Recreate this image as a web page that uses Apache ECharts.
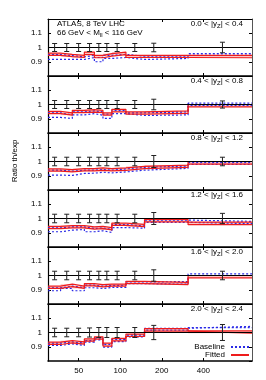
<!DOCTYPE html>
<html>
<head>
<meta charset="utf-8">
<script src="https://cdn.jsdelivr.net/npm/echarts@6/dist/echarts.min.js"></script>
<style>html,body{margin:0;padding:0;background:#fff;}#c{width:266px;height:380px;}</style>
</head>
<body>
<div id="c"></div>
<script>
// ---- data ----
const ptEdges = [30, 37, 45, 55, 65, 75, 87, 110, 150, 310, 900];
const ptCenters = [33.5, 41, 50, 60, 70, 80, 95, 127.5, 175, 550];
const xTickValues = [50, 100, 200, 400];
const yTickLabels = ['0.9', '1', '1.1'];
const rapidityLabels = ['0.0 < |y{s|Z}| < 0.4', '0.4 < |y{s|Z}| < 0.8', '0.8 < |y{s|Z}| < 1.2',
                        '1.2 < |y{s|Z}| < 1.6', '1.6 < |y{s|Z}| < 2.0', '2.0 < |y{s|Z}| < 2.4'];

const fitHi1 = [0.961, 0.952, 0.945, 0.968, 0.945, 0.957, 0.968, 0.945, 0.945, 0.945];
const fitLo1 = [0.945, 0.936, 0.930, 0.950, 0.928, 0.940, 0.950, 0.930, 0.930, 0.928];
const baseHi1 = [0.950, 0.943, 0.934, 0.945, 0.930, 0.945, 0.952, 0.939, 0.939, 0.957];
const baseLo1 = [0.916, 0.916, 0.916, 0.930, 0.900, 0.923, 0.930, 0.916, 0.923, 0.945];
const err1 = [0.028, 0.028, 0.028, 0.028, 0.028, 0.028, 0.028, 0.028, 0.030, 0.037];

const fitHi2 = [0.952, 0.941, 0.959, 0.964, 0.959, 0.941, 0.966, 0.948, 0.955, 1.000];
const fitLo2 = [0.936, 0.925, 0.943, 0.947, 0.943, 0.925, 0.948, 0.932, 0.938, 0.984];
const baseHi2 = [0.941, 0.927, 0.948, 0.955, 0.948, 0.932, 0.959, 0.941, 0.948, 1.009];
const baseLo2 = [0.909, 0.902, 0.927, 0.936, 0.925, 0.902, 0.936, 0.923, 0.927, 0.993];
const err2 = [0.028, 0.028, 0.028, 0.028, 0.028, 0.028, 0.028, 0.028, 0.037, 0.025];

const fitHi3 = [0.948, 0.943, 0.950, 0.950, 0.955, 0.950, 0.955, 0.966, 0.975, 1.000];
const fitLo3 = [0.932, 0.927, 0.934, 0.934, 0.938, 0.934, 0.938, 0.950, 0.959, 0.982];
const baseHi3 = [0.939, 0.932, 0.939, 0.939, 0.943, 0.939, 0.948, 0.959, 0.968, 0.993];
const baseLo3 = [0.905, 0.902, 0.916, 0.918, 0.925, 0.920, 0.927, 0.939, 0.952, 0.980];
const err3 = [0.030, 0.030, 0.030, 0.030, 0.030, 0.030, 0.030, 0.030, 0.042, 0.030];

const fitHi4 = [0.945, 0.950, 0.950, 0.941, 0.945, 0.936, 0.968, 0.959, 0.993, 0.975];
const fitLo4 = [0.929, 0.934, 0.934, 0.925, 0.929, 0.920, 0.952, 0.943, 0.977, 0.957];
const baseHi4 = [0.934, 0.941, 0.941, 0.930, 0.934, 0.923, 0.957, 0.948, 0.989, 0.980];
const baseLo4 = [0.907, 0.918, 0.923, 0.907, 0.914, 0.902, 0.936, 0.932, 0.973, 0.964];
const err4 = [0.030, 0.030, 0.030, 0.030, 0.030, 0.030, 0.030, 0.030, 0.042, 0.036];

const fitHi5 = [0.925, 0.939, 0.925, 0.943, 0.936, 0.939, 0.939, 0.959, 0.952, 1.000];
const fitLo5 = [0.909, 0.922, 0.909, 0.927, 0.920, 0.925, 0.925, 0.943, 0.936, 0.984];
const baseHi5 = [0.914, 0.925, 0.914, 0.932, 0.925, 0.930, 0.932, 0.955, 0.957, 1.011];
const baseLo5 = [0.893, 0.909, 0.893, 0.914, 0.909, 0.916, 0.916, 0.943, 0.939, 1.000];
const err5 = [0.030, 0.030, 0.030, 0.030, 0.030, 0.030, 0.030, 0.030, 0.040, 0.030];

const fitHi6 = [0.932, 0.943, 0.934, 0.955, 0.970, 0.925, 0.959, 0.989, 1.027, 1.011];
const fitLo6 = [0.916, 0.927, 0.918, 0.939, 0.954, 0.905, 0.941, 0.972, 1.009, 0.995];
const baseHi6 = [0.925, 0.934, 0.925, 0.943, 0.961, 0.916, 0.952, 0.982, 1.030, 1.043];
const baseLo6 = [0.909, 0.920, 0.909, 0.932, 0.948, 0.898, 0.936, 0.970, 1.016, 1.034];
const err6 = [0.030, 0.030, 0.030, 0.032, 0.035, 0.035, 0.035, 0.035, 0.050, 0.056];

const panels = [
  {fitHi: fitHi1, fitLo: fitLo1, baseHi: baseHi1, baseLo: baseLo1, err: err1},
  {fitHi: fitHi2, fitLo: fitLo2, baseHi: baseHi2, baseLo: baseLo2, err: err2},
  {fitHi: fitHi3, fitLo: fitLo3, baseHi: baseHi3, baseLo: baseLo3, err: err3},
  {fitHi: fitHi4, fitLo: fitLo4, baseHi: baseHi4, baseLo: baseLo4, err: err4},
  {fitHi: fitHi5, fitLo: fitLo5, baseHi: baseHi5, baseLo: baseLo5, err: err5},
  {fitHi: fitHi6, fitLo: fitLo6, baseHi: baseHi6, baseLo: baseLo6, err: err6}
];

// ---- layout / style ----
const FONT = 'Liberation Sans';
const RED = '#ee1c1c';
const BLUE = '#2a2ae6';
const PANEL_TOP = 19, PANEL_H = 57, LEFT = 48, RIGHT = 14;

function stepData(vals) {
  const d = vals.map((v, i) => [ptEdges[i], v]);
  d.push([ptEdges[ptEdges.length - 1], vals[vals.length - 1]]);
  return d;
}

const grids = [], xAxes = [], yAxes = [], series = [], graphics = [];
panels.forEach((p, k) => {
  const last = k === panels.length - 1;
  grids.push({left: LEFT, right: RIGHT, top: PANEL_TOP + k * PANEL_H, height: PANEL_H, containLabel: false});
  xAxes.push({
    type: 'log', gridIndex: k, min: 30, max: 900, position: 'bottom',
    axisLine: {show: true, lineStyle: {color: '#000', width: 1.5}},
    axisTick: {show: true, inside: true, length: 3, customValues: xTickValues, lineStyle: {color: '#000'}},
    axisLabel: {show: last, customValues: xTickValues, fontFamily: FONT, fontSize: 8, color: '#000', margin: 6},
    splitLine: {show: false}, minorTick: {show: false}
  });
  xAxes.push({
    type: 'log', gridIndex: k, min: 30, max: 900, position: 'top',
    axisLine: {show: true, lineStyle: {color: '#000', width: 1}},
    axisTick: {show: true, inside: true, length: 3, customValues: xTickValues, lineStyle: {color: '#000'}},
    axisLabel: {show: false}, splitLine: {show: false}
  });
  yAxes.push({
    type: 'value', gridIndex: k, min: 0.8, max: 1.2, interval: 0.1, position: 'left',
    axisLine: {show: true, lineStyle: {color: '#000', width: 1.2}},
    axisTick: {show: true, inside: true, length: 3, lineStyle: {color: '#000'}},
    axisLabel: {show: true, showMinLabel: false, showMaxLabel: false, fontFamily: FONT, fontSize: 8, color: '#000', margin: 6,
      formatter: v => { const s = (Math.round(v * 10) / 10).toString(); return yTickLabels.indexOf(s) >= 0 ? s : ''; }},
    splitLine: {show: false}
  });
  yAxes.push({
    type: 'value', gridIndex: k, min: 0.8, max: 1.2, interval: 0.1, position: 'right',
    axisLine: {show: true, lineStyle: {color: '#555', width: 1}},
    axisTick: {show: true, inside: true, length: 3, lineStyle: {color: '#000'}},
    axisLabel: {show: false}, splitLine: {show: false}
  });
  const xi = 2 * k, yi = 2 * k;
  series.push({
    type: 'custom', xAxisIndex: xi, yAxisIndex: yi, silent: true, z: 1,
    data: p.fitHi.map((h, i) => [ptEdges[i], ptEdges[i + 1], p.fitLo[i], h]),
    encode: {x: [0, 1], y: [2, 3]},
    renderItem: (params, api) => {
      const a = api.coord([api.value(0), api.value(3)]);
      const b = api.coord([api.value(1), api.value(2)]);
      return {type: 'rect', shape: {x: a[0], y: a[1], width: b[0] - a[0], height: b[1] - a[1]},
              style: {fill: 'rgba(250,90,90,0.35)'}};
    }
  });
  series.push({
    type: 'line', xAxisIndex: xi, yAxisIndex: yi, data: [], silent: true, z: 2,
    markLine: {silent: true, symbol: 'none', label: {show: false},
      lineStyle: {color: '#000', width: 1, type: 'solid'}, data: [{yAxis: 1}], animation: false}
  });
  ['baseHi', 'baseLo'].forEach(key => {
    series.push({
      name: 'Baseline', type: 'line', step: 'end', xAxisIndex: xi, yAxisIndex: yi, z: 3,
      data: stepData(p[key]), symbol: 'none', showSymbol: false,
      lineStyle: {color: BLUE, width: 1.2, type: [2, 2]}
    });
  });
  ['fitHi', 'fitLo'].forEach(key => {
    series.push({
      name: 'Fitted', type: 'line', step: 'end', xAxisIndex: xi, yAxisIndex: yi, z: 4,
      data: stepData(p[key]), symbol: 'none', showSymbol: false,
      lineStyle: {color: RED, width: 1.2, type: 'solid'}
    });
  });
  series.push({
    type: 'custom', xAxisIndex: xi, yAxisIndex: yi, silent: true, z: 5,
    data: ptCenters.map((c, i) => [c, 1 - p.err[i], 1 + p.err[i]]),
    encode: {x: 0, y: [1, 2]},
    renderItem: (params, api) => {
      const t = api.coord([api.value(0), api.value(2)]);
      const b = api.coord([api.value(0), api.value(1)]);
      const st = {stroke: '#222', lineWidth: 1};
      return {type: 'group', children: [
        {type: 'line', shape: {x1: t[0], y1: t[1], x2: b[0], y2: b[1]}, style: st},
        {type: 'line', shape: {x1: t[0] - 2.5, y1: t[1], x2: t[0] + 2.5, y2: t[1]}, style: st},
        {type: 'line', shape: {x1: b[0] - 2.5, y1: b[1], x2: b[0] + 2.5, y2: b[1]}, style: st}
      ]};
    }
  });
  graphics.push({
    type: 'text', right: 23, top: PANEL_TOP + k * PANEL_H + 1,
    style: {text: rapidityLabels[k], font: '8px ' + FONT, fill: '#000',
      rich: {s: {fontSize: 6, fontFamily: FONT, verticalAlign: 'bottom', padding: [4, 0, 0, 0]}}}
  });
});

graphics.push({type: 'text', left: 57, top: 20,
  style: {text: 'ATLAS, 8 TeV LHC', font: '8px ' + FONT, fill: '#000'}});
graphics.push({type: 'text', left: 57, top: 29,
  style: {text: '66 GeV < M{s|ll} < 116 GeV', font: '8px ' + FONT, fill: '#000',
    rich: {s: {fontSize: 6, fontFamily: FONT, padding: [4, 0, 0, 0]}}}});
graphics.push({type: 'text', x: 15, y: 161, rotation: Math.PI / 2,
  style: {text: 'Ratio th/exp', font: '8px ' + FONT, fill: '#000', align: 'center', verticalAlign: 'middle'}});

const legendCommon = {
  right: 16, align: 'right', itemWidth: 18, itemHeight: 6, itemGap: 0, padding: 0, selectedMode: false,
  itemStyle: {opacity: 0},
  textStyle: {fontFamily: FONT, fontSize: 8, color: '#000', padding: [0, 1, 0, 0]}
};

const chart = echarts.init(document.getElementById('c'), null, {renderer: 'canvas'});
chart.setOption({
  animation: false,
  backgroundColor: '#fff',
  grid: grids, xAxis: xAxes, yAxis: yAxes, series: series, graphic: graphics,
  legend: [
    Object.assign({data: ['Baseline'], top: 343}, legendCommon),
    Object.assign({data: ['Fitted'], top: 351}, legendCommon)
  ]
});
</script>
</body>
</html>
